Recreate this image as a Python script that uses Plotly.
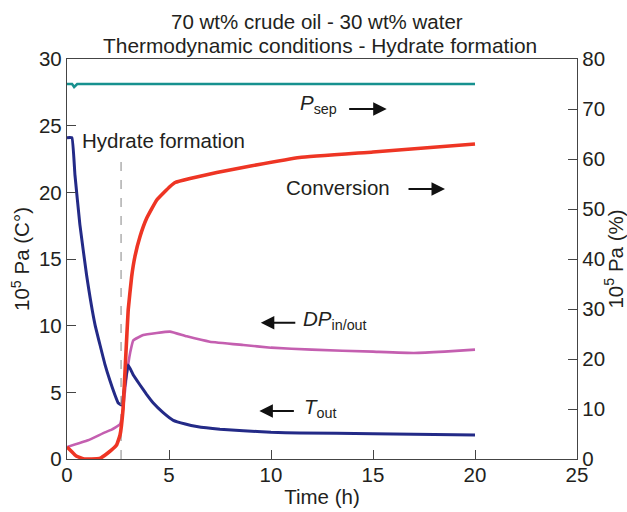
import plotly.graph_objects as go

# Time (h) and measured series
t_tout = [0, 0.24, 0.39, 0.63, 0.96, 1.37, 1.86, 2.1, 2.35, 2.51, 2.68, 2.84, 3.0,
          3.25, 3.58, 3.9, 4.23, 4.7, 5.21, 5.8, 6.36, 7.5, 8.64, 10, 11.4, 15, 20]
tout = [24.1, 24.1, 21.3, 17.6, 13.8, 10.1, 7.1, 5.9, 4.8, 4.2, 4.05, 5.6, 7.05,
        6.3, 5.55, 4.85, 4.2, 3.5, 2.9, 2.62, 2.43, 2.23, 2.12, 2.0, 1.95, 1.9, 1.8]

t_conv = [0, 0.2, 0.45, 0.85, 1.2, 1.6, 2.0, 2.43, 2.6, 2.75, 2.88, 3.0, 3.17,
          3.33, 3.58, 3.9, 4.4, 5.05, 5.3, 6.03, 7.34, 9, 11.4, 15, 20]
conversion = [2.4, 1.6, 0.6, 0, 0, 0.1, 1.2, 2.8, 4.8, 10.1, 20.5, 29.8, 36.5,
              40.5, 44.5, 48.1, 51.8, 54.5, 55.3, 56.1, 57.3, 58.6, 60.3, 61.4, 63]

t_dp = [0, 1.03, 1.86, 2.19, 2.6, 2.75, 2.92, 3.1, 3.25, 3.74, 4.4, 5.05, 5.87,
        7.0, 8.64, 10, 12, 15, 17, 18.5, 20]
dp = [0.9, 1.4, 2.0, 2.2, 2.6, 3.8, 6.2, 8.0, 8.9, 9.3, 9.45, 9.55, 9.2,
      8.8, 8.55, 8.35, 8.2, 8.05, 7.95, 8.05, 8.2]

t_psep = [0, 0.25, 0.35, 0.5, 10, 20]
psep = [75, 75, 74.4, 75, 75, 75]

t_hydrate = 2.65  # onset of hydrate formation

NAVY = "#232a87"
RED = "#ee3524"
ORCHID = "#c45fb0"
TEAL = "#17918f"
INK = "#231f20"
FONT = "Liberation Sans, Arial, sans-serif"
FS = 20.5

fig = go.Figure()
fig.add_trace(go.Scatter(x=t_psep, y=psep, yaxis="y2", mode="lines",
                         line=dict(color=TEAL, width=2.5)))
fig.add_trace(go.Scatter(x=t_dp, y=dp, mode="lines",
                         line=dict(color=ORCHID, width=2.6, shape="spline", smoothing=0.3)))
fig.add_trace(go.Scatter(x=t_conv, y=conversion, yaxis="y2", mode="lines",
                         line=dict(color=RED, width=3.6, shape="spline", smoothing=0.3)))
fig.add_trace(go.Scatter(x=t_tout, y=tout, mode="lines",
                         line=dict(color=NAVY, width=3, shape="spline", smoothing=0.3)))
fig.add_trace(go.Scatter(x=[t_hydrate, t_hydrate], y=[0, 22.5], mode="lines",
                         line=dict(color="#9a9a9a", width=1.2, dash="dash")))

axis_common = dict(showline=True, linecolor="#444", linewidth=1.3, ticks="inside",
                   ticklen=9, tickcolor="#444", showgrid=False, zeroline=False,
                   automargin=False,
                   tickfont=dict(size=FS, color=INK, family=FONT))

fig.update_layout(
    width=627, height=512,
    margin=dict(l=67, r=50, t=59, b=53),
    paper_bgcolor="white", plot_bgcolor="white",
    showlegend=False,
    font=dict(family=FONT, size=FS, color=INK),
    xaxis=dict(range=[0, 25], dtick=5, mirror=True, ticklabelstandoff=-3,
               title=dict(text="Time (h)", standoff=4, font=dict(size=FS)),
               **axis_common),
    yaxis=dict(range=[0, 30], dtick=5,
               title=dict(text="10<sup>5</sup> Pa (C°)", standoff=3, font=dict(size=FS)),
               **axis_common),
    yaxis2=dict(range=[0, 80], dtick=10, overlaying="y", side="right",
                title=dict(text="10<sup>5</sup> Pa (%)", standoff=1, font=dict(size=FS)),
                **axis_common),
)

annotations = [
    dict(text="70 wt% crude oil - 30 wt% water", x=0.49, y=1.0925, size=FS),
    dict(text="Thermodynamic conditions - Hydrate formation", x=0.497, y=1.035, size=20.9),
]
for a in annotations:
    size = a.pop("size")
    fig.add_annotation(xref="paper", yref="paper", xanchor="center", yanchor="middle",
                       showarrow=False, font=dict(size=size, color=INK), **a)

# Curve labels
labels = [
    dict(text="Hydrate formation", x=0.62, y=23.9, xanchor="left"),
    dict(text="<i>P</i><sub>sep</sub>", x=11.3, y=26.6, xanchor="left"),
    dict(text="Conversion", x=10.65, y=20.35, xanchor="left"),
    dict(text="<i>DP</i><sub>in/out</sub>", x=11.45, y=10.4, xanchor="left"),
    dict(text="<i>T</i><sub>out</sub>", x=11.5, y=3.8, xanchor="left"),
]
for a in labels:
    fig.add_annotation(xref="x", yref="y", yanchor="middle", showarrow=False,
                       font=dict(size=FS, color=INK), **a)

# Arrows pointing to the axis each curve is read on
arrows = [
    dict(x=15.67, y=26.25, ax=-39),
    dict(x=18.53, y=20.25, ax=-38),
    dict(x=9.5, y=10.22, ax=36),
    dict(x=9.43, y=3.6, ax=36),
]
for a in arrows:
    fig.add_annotation(xref="x", yref="y", text="", showarrow=True, arrowhead=2,
                       arrowsize=1.5, arrowwidth=1.8, arrowcolor="#111",
                       ay=0, standoff=0, **a)

fig.write_html("out.html")
